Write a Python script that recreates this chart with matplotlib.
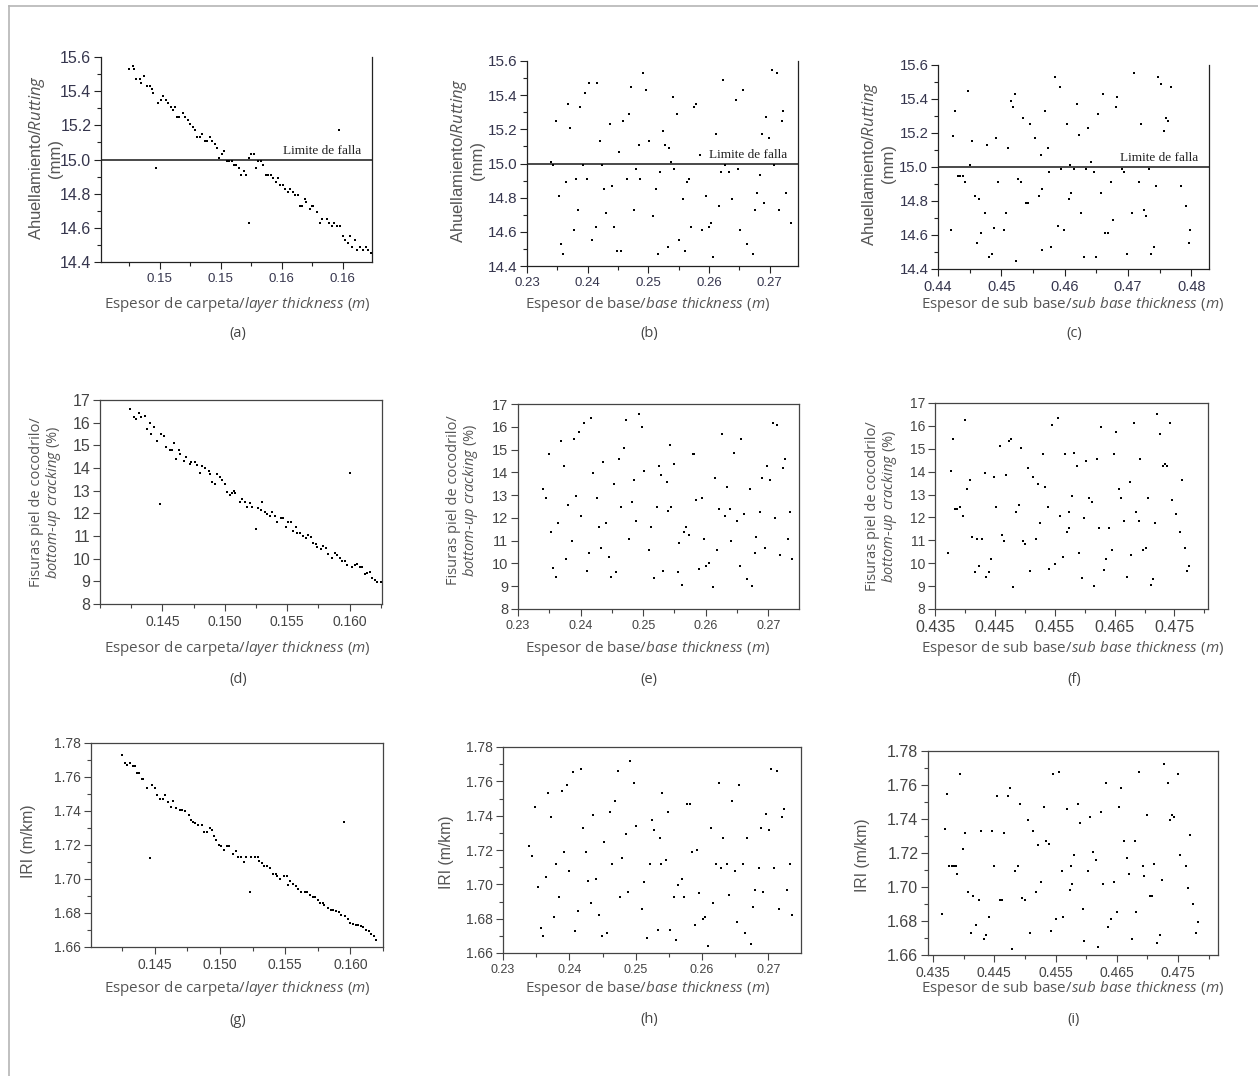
import matplotlib
matplotlib.use("Agg")
import matplotlib.pyplot as plt
from matplotlib.lines import Line2D
from matplotlib.ticker import AutoMinorLocator, NullLocator

plt.rcParams["mathtext.fontset"] = "custom"
plt.rcParams["mathtext.it"] = "Open Sans:italic"
plt.rcParams["mathtext.rm"] = "Open Sans"

# ---------------------------------------------------------------------------
# Data (x = thickness in m, y = response)
# ---------------------------------------------------------------------------

# (a) rutting vs layer thickness
a_x = [0.1425, 0.1428, 0.1429, 0.1431, 0.1434, 0.1435, 0.1437, 0.1440, 0.1442, 0.1444,
       0.1445, 0.1449, 0.1451, 0.1453, 0.1455, 0.1457, 0.1459, 0.1461, 0.1463, 0.1464,
       0.1466, 0.1469, 0.1471, 0.1473, 0.1475, 0.1477, 0.1479, 0.1481, 0.1483, 0.1485,
       0.1487, 0.1489, 0.1491, 0.1493, 0.1495, 0.1497, 0.1499, 0.1501, 0.1503, 0.1505,
       0.1507, 0.1509, 0.1511, 0.1513, 0.1515, 0.1517, 0.1519, 0.1521, 0.1523, 0.1525,
       0.1527, 0.1529, 0.1531, 0.1533, 0.1535, 0.1537, 0.1539, 0.1541, 0.1543, 0.1545,
       0.1547, 0.1549, 0.1551, 0.1553, 0.1555, 0.1557, 0.1559, 0.1561, 0.1563, 0.1565,
       0.1567, 0.1569, 0.1570, 0.1573, 0.1575, 0.1576, 0.1579, 0.1581, 0.1583, 0.1587,
       0.1589, 0.1591, 0.1593, 0.1595, 0.1598, 0.1600, 0.1602, 0.1604, 0.1606, 0.1608,
       0.1610, 0.1612, 0.1614, 0.1617, 0.1619, 0.1621, 0.1623, 0.1447, 0.1523, 0.1597]
a_y = [15.53, 15.55, 15.53, 15.47, 15.47, 15.45, 15.49, 15.43, 15.43, 15.41,
       15.39, 15.33, 15.35, 15.37, 15.35, 15.33, 15.31, 15.29, 15.31, 15.25,
       15.25, 15.27, 15.25, 15.23, 15.21, 15.19, 15.17, 15.13, 15.13, 15.15,
       15.11, 15.11, 15.13, 15.11, 15.09, 15.07, 15.01, 15.03, 15.05, 14.99,
       14.99, 14.99, 14.97, 14.97, 14.95, 14.91, 14.93, 14.91, 15.01, 15.03,
       15.03, 14.95, 14.99, 14.99, 14.97, 14.91, 14.91, 14.91, 14.89, 14.87,
       14.89, 14.85, 14.85, 14.83, 14.81, 14.83, 14.81, 14.79, 14.79, 14.73,
       14.73, 14.77, 14.75, 14.71, 14.73, 14.73, 14.69, 14.63, 14.65, 14.65,
       14.63, 14.61, 14.63, 14.61, 14.61, 14.55, 14.53, 14.51, 14.55, 14.49,
       14.53, 14.47, 14.49, 14.47, 14.49, 14.47, 14.45, 14.95, 14.63, 15.17]

# (b) rutting vs base thickness
b_x = [0.2339, 0.2343, 0.2348, 0.2353, 0.2356, 0.2360, 0.2364, 0.2368, 0.2371, 0.2377,
       0.2380, 0.2384, 0.2388, 0.2392, 0.2396, 0.2399, 0.2403, 0.2408, 0.2413, 0.2416,
       0.2420, 0.2424, 0.2427, 0.2431, 0.2437, 0.2440, 0.2444, 0.2448, 0.2452, 0.2455,
       0.2459, 0.2465, 0.2469, 0.2472, 0.2476, 0.2480, 0.2484, 0.2487, 0.2491, 0.2497,
       0.2501, 0.2508, 0.2512, 0.2516, 0.2519, 0.2524, 0.2528, 0.2532, 0.2535, 0.2537,
       0.2540, 0.2543, 0.2547, 0.2551, 0.2557, 0.2560, 0.2564, 0.2568, 0.2571, 0.2575,
       0.2579, 0.2585, 0.2588, 0.2595, 0.2600, 0.2604, 0.2607, 0.2611, 0.2616, 0.2620,
       0.2624, 0.2627, 0.2634, 0.2638, 0.2645, 0.2648, 0.2652, 0.2656, 0.2663, 0.2673,
       0.2676, 0.2680, 0.2684, 0.2687, 0.2691, 0.2695, 0.2699, 0.2704, 0.2708, 0.2712,
       0.2716, 0.2720, 0.2723, 0.2727, 0.2736]
b_y = [15.01, 14.99, 15.25, 14.81, 14.53, 14.47, 14.89, 15.35, 15.21, 14.61,
       14.91, 14.73, 15.33, 14.99, 15.41, 14.91, 15.47, 14.55, 14.63, 15.47,
       15.13, 14.99, 14.85, 14.71, 15.23, 14.87, 14.63, 14.49, 15.07, 14.49,
       15.25, 14.91, 15.29, 15.45, 14.73, 14.97, 15.11, 14.91, 15.53, 15.43,
       15.13, 14.69, 14.85, 14.47, 14.95, 15.19, 15.11, 14.51, 15.09, 15.01,
       15.39, 14.97, 15.29, 14.55, 14.79, 14.49, 14.89, 14.91, 14.63, 15.33,
       15.35, 15.05, 14.61, 14.81, 14.63, 14.65, 14.45, 15.17, 14.75, 14.95,
       15.49, 14.99, 14.95, 14.79, 15.37, 14.97, 14.61, 15.43, 14.53, 14.47,
       14.73, 14.83, 14.93, 15.17, 14.77, 15.27, 15.15, 15.55, 14.99, 15.53,
       14.73, 15.25, 15.31, 14.83, 14.65]

# (c) rutting vs sub base thickness
c_x = [0.4421, 0.4423, 0.4427, 0.4431, 0.4435, 0.4439, 0.4443, 0.4447, 0.4451, 0.4454,
       0.4458, 0.4461, 0.4465, 0.4468, 0.4474, 0.4477, 0.4481, 0.4485, 0.4488, 0.4492,
       0.4495, 0.4504, 0.4508, 0.4511, 0.4515, 0.4518, 0.4522, 0.4523, 0.4527, 0.4531,
       0.4534, 0.4539, 0.4542, 0.4546, 0.4553, 0.4559, 0.4562, 0.4564, 0.4565, 0.4569,
       0.4573, 0.4576, 0.4579, 0.4585, 0.4589, 0.4593, 0.4595, 0.4599, 0.4603, 0.4607,
       0.4608, 0.4610, 0.4615, 0.4619, 0.4623, 0.4626, 0.4630, 0.4634, 0.4637, 0.4642,
       0.4646, 0.4649, 0.4653, 0.4657, 0.4660, 0.4664, 0.4668, 0.4673, 0.4676, 0.4681,
       0.4683, 0.4691, 0.4694, 0.4699, 0.4707, 0.4710, 0.4717, 0.4721, 0.4726, 0.4729,
       0.4734, 0.4737, 0.4741, 0.4744, 0.4748, 0.4752, 0.4757, 0.4760, 0.4764, 0.4768,
       0.4784, 0.4792, 0.4796, 0.4798]
c_y = [14.63, 15.18, 15.33, 14.95, 14.95, 14.95, 14.91, 15.45, 15.01, 15.15,
       14.83, 14.55, 14.81, 14.61, 14.73, 15.13, 14.47, 14.49, 14.64, 15.17,
       14.91, 14.63, 14.73, 15.11, 15.39, 15.35, 15.43, 14.45, 14.93, 14.91,
       15.29, 14.79, 14.79, 15.25, 15.17, 14.83, 15.07, 14.51, 14.87, 15.33,
       15.11, 14.97, 14.53, 15.53, 14.65, 15.47, 14.99, 14.63, 15.25, 14.81,
       15.01, 14.85, 14.99, 15.37, 15.19, 14.73, 14.47, 14.99, 15.23, 15.03,
       14.97, 14.47, 15.31, 14.85, 15.43, 14.61, 14.61, 14.91, 14.69, 15.35,
       15.41, 14.99, 14.97, 14.49, 14.73, 15.55, 14.91, 15.25, 14.75, 14.71,
       14.99, 14.49, 14.53, 14.89, 15.53, 15.49, 15.21, 15.29, 15.27, 15.47,
       14.89, 14.77, 14.55, 14.63]

# (d) bottom-up cracking vs layer thickness
d_x = [0.1424, 0.1427, 0.1429, 0.1431, 0.1433, 0.1436, 0.1438, 0.1440, 0.1441, 0.1443,
       0.1446, 0.1448, 0.1449, 0.1451, 0.1453, 0.1456, 0.1458, 0.1459, 0.1461, 0.1463,
       0.1464, 0.1467, 0.1469, 0.1472, 0.1473, 0.1476, 0.1478, 0.1480, 0.1482, 0.1484,
       0.1487, 0.1488, 0.1490, 0.1492, 0.1494, 0.1496, 0.1498, 0.1500, 0.1502, 0.1504,
       0.1506, 0.1507, 0.1508, 0.1512, 0.1514, 0.1516, 0.1518, 0.1520, 0.1522, 0.1525,
       0.1527, 0.1529, 0.1530, 0.1532, 0.1534, 0.1536, 0.1538, 0.1540, 0.1542, 0.1545,
       0.1547, 0.1549, 0.1551, 0.1553, 0.1555, 0.1557, 0.1558, 0.1560, 0.1563, 0.1565,
       0.1567, 0.1569, 0.1571, 0.1573, 0.1574, 0.1577, 0.1579, 0.1581, 0.1583, 0.1586,
       0.1588, 0.1590, 0.1592, 0.1594, 0.1596, 0.1598, 0.1600, 0.1602, 0.1604, 0.1606,
       0.1608, 0.1610, 0.1612, 0.1614, 0.1616, 0.1618, 0.1620, 0.1622, 0.1625]
d_y = [16.60, 16.24, 16.15, 16.41, 16.24, 16.31, 15.71, 15.97, 15.49, 15.79,
       15.19, 12.40, 15.49, 15.41, 14.91, 14.79, 14.79, 15.09, 14.40, 14.79,
       14.62, 14.31, 14.50, 14.18, 14.28, 14.28, 14.13, 13.79, 14.09, 13.99,
       13.88, 13.72, 13.40, 13.29, 13.72, 13.62, 13.47, 13.28, 12.93, 12.81,
       12.88, 12.99, 12.88, 12.51, 12.62, 12.51, 12.29, 12.44, 12.29, 11.29,
       12.25, 12.15, 12.51, 12.04, 11.96, 11.88, 12.07, 11.88, 11.60, 11.78,
       11.78, 11.41, 11.60, 11.60, 11.22, 11.41, 11.12, 11.12, 11.01, 10.90,
       11.04, 10.97, 10.68, 10.63, 10.53, 10.41, 10.57, 10.46, 10.19, 10.01,
       10.26, 10.16, 10.01, 9.90, 9.90, 9.72, 13.76, 9.65, 9.72, 9.75,
       9.65, 9.65, 9.31, 9.38, 9.40, 9.13, 9.06, 8.99, 8.96]

# (e) bottom-up cracking vs base thickness
e_x = [0.2340, 0.2344, 0.2349, 0.2353, 0.2356, 0.2360, 0.2364, 0.2369, 0.2373, 0.2377,
       0.2380, 0.2386, 0.2389, 0.2393, 0.2397, 0.2401, 0.2405, 0.2410, 0.2413, 0.2416,
       0.2420, 0.2426, 0.2429, 0.2433, 0.2436, 0.2441, 0.2446, 0.2449, 0.2453, 0.2456,
       0.2462, 0.2465, 0.2469, 0.2472, 0.2477, 0.2482, 0.2486, 0.2489, 0.2493, 0.2498,
       0.2502, 0.2509, 0.2513, 0.2518, 0.2522, 0.2525, 0.2529, 0.2532, 0.2538, 0.2540,
       0.2543, 0.2545, 0.2549, 0.2555, 0.2557, 0.2562, 0.2565, 0.2569, 0.2574, 0.2579,
       0.2582, 0.2585, 0.2589, 0.2594, 0.2597, 0.2601, 0.2605, 0.2611, 0.2614, 0.2618,
       0.2621, 0.2626, 0.2630, 0.2634, 0.2638, 0.2641, 0.2645, 0.2650, 0.2654, 0.2657,
       0.2661, 0.2666, 0.2671, 0.2674, 0.2678, 0.2681, 0.2686, 0.2690, 0.2695, 0.2698,
       0.2702, 0.2707, 0.2711, 0.2714, 0.2718, 0.2724, 0.2727, 0.2731, 0.2735, 0.2738]
e_y = [13.27, 12.87, 14.80, 11.36, 9.78, 9.42, 11.79, 15.38, 14.28, 10.19,
       12.58, 10.98, 15.47, 12.98, 15.78, 12.08, 16.18, 9.69, 10.48, 16.37,
       13.98, 12.87, 11.58, 10.69, 14.47, 11.79, 10.29, 9.42, 13.48, 9.63,
       14.58, 12.48, 15.08, 16.28, 11.08, 12.68, 13.68, 11.88, 16.57, 15.97,
       14.08, 10.58, 11.58, 9.38, 12.48, 14.28, 13.89, 9.69, 13.58, 12.29,
       15.19, 12.48, 14.37, 9.63, 10.88, 9.07, 11.36, 11.58, 11.27, 14.80,
       14.80, 12.79, 9.75, 12.87, 11.08, 9.88, 10.00, 8.98, 13.77, 10.58,
       12.37, 15.68, 12.08, 13.37, 12.37, 10.98, 14.87, 11.88, 9.88, 15.47,
       12.18, 9.32, 13.27, 9.03, 10.48, 11.17, 12.27, 13.77, 10.69, 14.28,
       13.68, 16.18, 11.98, 16.07, 10.38, 14.18, 14.58, 11.08, 12.27, 10.18]

# (f) bottom-up cracking vs sub base thickness
f_x = [0.4372, 0.4376, 0.4380, 0.4383, 0.4387, 0.4391, 0.4396, 0.4400, 0.4404, 0.4408,
       0.4412, 0.4416, 0.4420, 0.4424, 0.4429, 0.4433, 0.4436, 0.4440, 0.4444, 0.4448,
       0.4452, 0.4458, 0.4462, 0.4465, 0.4469, 0.4473, 0.4477, 0.4481, 0.4486, 0.4490,
       0.4493, 0.4497, 0.4501, 0.4506, 0.4509, 0.4513, 0.4518, 0.4522, 0.4526, 0.4530,
       0.4534, 0.4538, 0.4541, 0.4546, 0.4550, 0.4555, 0.4559, 0.4563, 0.4567, 0.4570,
       0.4573, 0.4574, 0.4579, 0.4583, 0.4587, 0.4591, 0.4595, 0.4599, 0.4603, 0.4608,
       0.4612, 0.4616, 0.4620, 0.4624, 0.4628, 0.4632, 0.4635, 0.4641, 0.4645, 0.4649,
       0.4653, 0.4657, 0.4661, 0.4665, 0.4670, 0.4675, 0.4678, 0.4682, 0.4685, 0.4690,
       0.4693, 0.4698, 0.4702, 0.4706, 0.4710, 0.4714, 0.4718, 0.4721, 0.4725, 0.4731,
       0.4734, 0.4738, 0.4742, 0.4746, 0.4753, 0.4759, 0.4763, 0.4767, 0.4771, 0.4775]
f_y = [10.46, 14.05, 15.44, 12.35, 12.35, 12.45, 12.06, 16.25, 13.24, 13.65,
       11.15, 9.62, 11.05, 9.87, 11.05, 13.94, 9.41, 9.62, 10.17, 13.75,
       12.45, 15.14, 11.25, 10.96, 13.86, 15.35, 15.44, 8.97, 12.25, 12.56,
       15.04, 10.96, 10.86, 14.15, 9.66, 13.75, 11.05, 13.45, 11.75, 14.75,
       13.35, 12.45, 9.76, 16.04, 9.98, 16.34, 12.06, 10.26, 14.75, 11.36,
       12.25, 11.56, 12.95, 14.83, 14.25, 10.46, 9.37, 11.96, 14.45, 12.85,
       12.66, 9.02, 14.54, 11.56, 15.93, 9.72, 10.17, 11.56, 10.57, 14.75,
       15.74, 13.24, 12.85, 11.85, 9.41, 13.55, 10.36, 16.14, 12.25, 11.85,
       14.54, 10.57, 10.67, 12.85, 9.06, 9.31, 11.75, 16.53, 15.64, 14.25,
       14.35, 14.25, 16.14, 12.75, 12.16, 11.36, 13.65, 10.67, 9.66, 9.87]

# (g) IRI vs layer thickness
g_x = [0.1425, 0.1427, 0.1429, 0.1431, 0.1433, 0.1435, 0.1436, 0.1438, 0.1440, 0.1441,
       0.1444, 0.1446, 0.1448, 0.1450, 0.1452, 0.1454, 0.1456, 0.1458, 0.1460, 0.1462,
       0.1464, 0.1466, 0.1469, 0.1471, 0.1473, 0.1476, 0.1478, 0.1479, 0.1481, 0.1483,
       0.1486, 0.1488, 0.1490, 0.1492, 0.1494, 0.1495, 0.1497, 0.1499, 0.1501, 0.1503,
       0.1505, 0.1507, 0.1510, 0.1512, 0.1514, 0.1516, 0.1518, 0.1520, 0.1523, 0.1524,
       0.1527, 0.1529, 0.1530, 0.1532, 0.1534, 0.1536, 0.1538, 0.1541, 0.1543, 0.1544,
       0.1546, 0.1549, 0.1551, 0.1552, 0.1554, 0.1556, 0.1558, 0.1560, 0.1562, 0.1565,
       0.1567, 0.1569, 0.1571, 0.1573, 0.1575, 0.1577, 0.1579, 0.1580, 0.1583, 0.1585,
       0.1587, 0.1589, 0.1591, 0.1593, 0.1595, 0.1596, 0.1598, 0.1600, 0.1602, 0.1604,
       0.1606, 0.1608, 0.1610, 0.1612, 0.1614, 0.1616, 0.1618, 0.1620]
g_y = [1.7727, 1.7682, 1.7669, 1.7682, 1.7663, 1.7663, 1.7622, 1.7622, 1.7588, 1.7588,
       1.7537, 1.7122, 1.7551, 1.7537, 1.7496, 1.7471, 1.7471, 1.7496, 1.7451, 1.7422,
       1.7461, 1.7418, 1.7408, 1.7408, 1.7398, 1.7378, 1.7345, 1.7335, 1.7329, 1.7318,
       1.7318, 1.7275, 1.7275, 1.7300, 1.7290, 1.7255, 1.7231, 1.7202, 1.7192, 1.7173,
       1.7192, 1.7192, 1.7147, 1.7163, 1.7129, 1.7129, 1.7100, 1.7129, 1.6924, 1.7129,
       1.7129, 1.7129, 1.7104, 1.7094, 1.7078, 1.7075, 1.7065, 1.7031, 1.7031, 1.7016,
       1.7000, 1.7016, 1.7020, 1.6967, 1.6986, 1.6973, 1.6957, 1.6941, 1.6922, 1.6922,
       1.6922, 1.6908, 1.6892, 1.6892, 1.6878, 1.6859, 1.6859, 1.6845, 1.6829, 1.6820,
       1.6820, 1.6810, 1.6804, 1.6790, 1.7333, 1.6780, 1.6767, 1.6741, 1.6737, 1.6731,
       1.6731, 1.6722, 1.6718, 1.6702, 1.6696, 1.6678, 1.6663, 1.6639]

# (h) IRI vs base thickness
h_x = [0.2339, 0.2344, 0.2348, 0.2352, 0.2357, 0.2360, 0.2365, 0.2368, 0.2372, 0.2377,
       0.2380, 0.2384, 0.2389, 0.2392, 0.2396, 0.2400, 0.2405, 0.2408, 0.2413, 0.2417,
       0.2420, 0.2425, 0.2428, 0.2432, 0.2436, 0.2440, 0.2444, 0.2449, 0.2452, 0.2456,
       0.2461, 0.2464, 0.2468, 0.2473, 0.2477, 0.2480, 0.2485, 0.2488, 0.2492, 0.2497,
       0.2501, 0.2509, 0.2513, 0.2517, 0.2522, 0.2525, 0.2528, 0.2533, 0.2536, 0.2538,
       0.2540, 0.2546, 0.2549, 0.2552, 0.2558, 0.2561, 0.2564, 0.2569, 0.2573, 0.2577,
       0.2582, 0.2585, 0.2589, 0.2593, 0.2596, 0.2601, 0.2605, 0.2609, 0.2613, 0.2617,
       0.2621, 0.2625, 0.2629, 0.2632, 0.2637, 0.2641, 0.2645, 0.2650, 0.2653, 0.2656,
       0.2661, 0.2665, 0.2668, 0.2673, 0.2677, 0.2680, 0.2686, 0.2689, 0.2692, 0.2697,
       0.2701, 0.2704, 0.2709, 0.2713, 0.2716, 0.2721, 0.2724, 0.2728, 0.2733, 0.2736]
h_y = [1.7221, 1.7167, 1.7450, 1.6983, 1.6744, 1.6697, 1.7043, 1.7532, 1.7392, 1.6808,
       1.7120, 1.6924, 1.7544, 1.7188, 1.7579, 1.7076, 1.7656, 1.6730, 1.6843, 1.7672,
       1.7326, 1.7188, 1.7017, 1.6891, 1.7406, 1.7029, 1.6823, 1.6697, 1.7247, 1.6717,
       1.7421, 1.7120, 1.7487, 1.7658, 1.6924, 1.7155, 1.7293, 1.6953, 1.7718, 1.7590,
       1.7340, 1.6856, 1.7014, 1.6685, 1.7120, 1.7373, 1.7314, 1.6732, 1.7268, 1.7120,
       1.7532, 1.7144, 1.7421, 1.6732, 1.6924, 1.6674, 1.6998, 1.7031, 1.6924, 1.7466,
       1.7466, 1.7188, 1.6765, 1.7202, 1.6950, 1.6798, 1.6808, 1.6639, 1.7328, 1.6891,
       1.7120, 1.7590, 1.7095, 1.7268, 1.7120, 1.6938, 1.7485, 1.7076, 1.6779, 1.7581,
       1.7120, 1.6718, 1.7268, 1.6652, 1.6870, 1.6969, 1.7097, 1.7328, 1.6955, 1.7408,
       1.7314, 1.7672, 1.7097, 1.7658, 1.6856, 1.7392, 1.7441, 1.6969, 1.7120, 1.6823]

# (i) IRI vs sub base thickness
i_x = [0.4365, 0.4369, 0.4373, 0.4376, 0.4381, 0.4385, 0.4387, 0.4390, 0.4395, 0.4399,
       0.4403, 0.4407, 0.4412, 0.4416, 0.4420, 0.4425, 0.4429, 0.4433, 0.4437, 0.4442,
       0.4446, 0.4450, 0.4455, 0.4459, 0.4462, 0.4466, 0.4472, 0.4475, 0.4479, 0.4484,
       0.4488, 0.4492, 0.4496, 0.4501, 0.4505, 0.4509, 0.4514, 0.4518, 0.4522, 0.4526,
       0.4531, 0.4535, 0.4539, 0.4543, 0.4546, 0.4551, 0.4556, 0.4560, 0.4563, 0.4568,
       0.4573, 0.4575, 0.4577, 0.4580, 0.4586, 0.4590, 0.4594, 0.4597, 0.4603, 0.4607,
       0.4611, 0.4616, 0.4620, 0.4624, 0.4627, 0.4633, 0.4636, 0.4640, 0.4646, 0.4650,
       0.4653, 0.4657, 0.4662, 0.4666, 0.4670, 0.4675, 0.4679, 0.4682, 0.4686, 0.4692,
       0.4695, 0.4699, 0.4704, 0.4708, 0.4711, 0.4715, 0.4720, 0.4723, 0.4727, 0.4733,
       0.4736, 0.4740, 0.4744, 0.4749, 0.4753, 0.4762, 0.4766, 0.4770, 0.4774, 0.4779,
       0.4783]
i_y = [1.6843, 1.7344, 1.7550, 1.7123, 1.7123, 1.7123, 1.7123, 1.7076, 1.7663, 1.7223,
       1.7315, 1.6968, 1.6728, 1.6949, 1.6777, 1.6921, 1.7330, 1.6696, 1.6716, 1.6822,
       1.7330, 1.7123, 1.7536, 1.6921, 1.6921, 1.7317, 1.7536, 1.7583, 1.6636, 1.7096,
       1.7123, 1.7491, 1.6935, 1.6921, 1.7395, 1.6728, 1.7330, 1.6968, 1.7250, 1.7027,
       1.7469, 1.7270, 1.7252, 1.6741, 1.7663, 1.6810, 1.7677, 1.7096, 1.6822, 1.7456,
       1.6982, 1.7123, 1.7015, 1.7188, 1.7491, 1.7375, 1.6869, 1.6683, 1.7096, 1.7409,
       1.7203, 1.7156, 1.6649, 1.7442, 1.7017, 1.7614, 1.6763, 1.6810, 1.7027, 1.6855,
       1.7469, 1.7583, 1.7270, 1.7170, 1.7076, 1.6696, 1.7270, 1.6855, 1.7677, 1.7123,
       1.7062, 1.7422, 1.6945, 1.6945, 1.7135, 1.6669, 1.6716, 1.7041, 1.7724, 1.7614,
       1.7395, 1.7422, 1.7409, 1.7663, 1.7188, 1.7123, 1.6996, 1.7305, 1.6902, 1.6728,
       1.6794]

# axis ticks
carpeta_ticks = [0.145, 0.150, 0.155, 0.160]
carpeta_labels_a = ["0.15", "0.15", "0.16", "0.16"]
carpeta_labels = ["0.145", "0.150", "0.155", "0.160"]
base_ticks = [0.23, 0.24, 0.25, 0.26, 0.27]
base_labels = ["0.23", "0.24", "0.25", "0.26", "0.27"]
sub_ticks_c = [0.44, 0.45, 0.46, 0.47, 0.48]
sub_labels_c = ["0.44", "0.45", "0.46", "0.47", "0.48"]
sub_ticks = [0.435, 0.445, 0.455, 0.465, 0.475]
sub_labels = ["0.435", "0.445", "0.455", "0.465", "0.475"]
rut_ticks = [14.4, 14.6, 14.8, 15.0, 15.2, 15.4, 15.6]
rut_labels = ["14.4", "14.6", "14.8", "15.0", "15.2", "15.4", "15.6"]
crack_ticks = [8, 9, 10, 11, 12, 13, 14, 15, 16, 17]
crack_labels = ["8", "9", "10", "11", "12", "13", "14", "15", "16", "17"]
iri_ticks = [1.66, 1.68, 1.70, 1.72, 1.74, 1.76, 1.78]
iri_labels = ["1.66", "1.68", "1.70", "1.72", "1.74", "1.76", "1.78"]
FAILURE_LIMIT = 15.0

# ---------------------------------------------------------------------------
# Figure
# ---------------------------------------------------------------------------

W, H = 1258, 1076
fig = plt.figure(figsize=(W / 100, H / 100), dpi=100)

SANS = "Liberation Sans"
LABEL = "Open Sans"
GREY = "#555555"


def panel(box, xs, ys, xlim, ylim, xt, xtl, yt, ytl, xfs, yfs,
          top=True, yminor=True, tickcol="#333333", spinecol="#333333"):
    left, top_px, right, bottom = box
    ax = fig.add_axes([left / W, 1 - bottom / H, (right - left) / W, (bottom - top_px) / H])
    ax.scatter(xs, ys, marker="s", s=4, c="black", linewidths=0, zorder=3)
    ax.set_xlim(*xlim)
    ax.set_ylim(*ylim)
    ax.set_xticks(xt, xtl)
    ax.set_yticks(yt, ytl)
    ax.xaxis.set_minor_locator(AutoMinorLocator(2))
    ax.yaxis.set_minor_locator(AutoMinorLocator(2) if yminor else NullLocator())
    ax.tick_params(which="major", direction="out", length=5, width=0.8, color=spinecol)
    ax.tick_params(which="minor", direction="out", length=3, width=0.8, color=spinecol)
    ax.tick_params(axis="x", labelsize=xfs, labelcolor=tickcol, pad=3)
    ax.tick_params(axis="y", labelsize=yfs, labelcolor=tickcol, pad=2)
    for lab in ax.get_xticklabels() + ax.get_yticklabels():
        lab.set_family(SANS)
    for s in ax.spines.values():
        s.set_color(spinecol)
        s.set_linewidth(0.9)
    ax.spines["top"].set_visible(top)
    return ax


def failure_line(ax, x_text):
    ax.axhline(FAILURE_LIMIT, color="#2a2a2a", lw=1.2, zorder=2)
    ax.text(x_text, FAILURE_LIMIT + 0.015, "Limite de falla", family="Liberation Serif",
            fontsize=9.5, color="#222222", va="bottom", ha="left")


def ftext(x, y, s, **kw):
    fig.text(x / W, 1 - y / H, s, **kw)


# row 1 -------------------------------------------------------------------
ax = panel((101, 57, 372, 262), a_x, a_y, (0.1402, 0.1624), (14.4, 15.6),
           carpeta_ticks, carpeta_labels_a, rut_ticks, rut_labels, 9.5, 11.5,
           top=False, tickcol="#35354d", spinecol="#222222")
failure_line(ax, 0.1551)
ax = panel((527, 61, 798, 266), b_x, b_y, (0.23, 0.2747), (14.4, 15.6),
           base_ticks, base_labels, rut_ticks, rut_labels, 9.5, 11,
           top=False, tickcol="#35354d", spinecol="#222222")
failure_line(ax, 0.2600)
ax = panel((938, 65, 1209, 269), c_x, c_y, (0.44, 0.4828), (14.4, 15.6),
           sub_ticks_c, sub_labels_c, rut_ticks, rut_labels, 10.5, 10.7,
           top=False, tickcol="#35354d", spinecol="#222222")
failure_line(ax, 0.4687)

# row 2 -------------------------------------------------------------------
panel((100, 400, 382, 604), d_x, d_y, (0.1400, 0.1626), (8, 17),
      carpeta_ticks, carpeta_labels, crack_ticks, crack_labels, 10, 11.5,
      yminor=False, tickcol="#444444", spinecol="#444444")
panel((518, 404, 799, 609), e_x, e_y, (0.23, 0.2749), (8, 17),
      base_ticks, base_labels, crack_ticks, crack_labels, 9, 10.5,
      yminor=False, tickcol="#444444", spinecol="#444444")
panel((935, 403, 1208, 609), f_x, f_y, (0.435, 0.4806), (8, 17),
      sub_ticks, sub_labels, crack_ticks, crack_labels, 11.5, 10,
      yminor=False, tickcol="#444444", spinecol="#444444")

# row 3 -------------------------------------------------------------------
panel((91, 743, 383, 947), g_x, g_y, (0.1401, 0.1625), (1.66, 1.78),
      carpeta_ticks, carpeta_labels, iri_ticks, iri_labels, 10, 10,
      tickcol="#444444", spinecol="#444444")
panel((503, 747, 801, 953), h_x, h_y, (0.23, 0.2749), (1.66, 1.78),
      base_ticks, base_labels, iri_ticks, iri_labels, 9, 10,
      tickcol="#444444", spinecol="#444444")
panel((928, 751, 1218, 955), i_x, i_y, (0.4342, 0.4815), (1.66, 1.78),
      sub_ticks, sub_labels, iri_ticks, iri_labels, 10, 11.5,
      tickcol="#444444", spinecol="#444444")

# axis titles ---------------------------------------------------------------
rut_label = "Ahuellamiento/$\\mathit{Rutting}$\n(mm)"
crack_label = "Fisuras piel de cocodrilo/\n$\\mathit{bottom}$-$\\mathit{up\\ cracking\\ (\\%)}$"
iri_label = "IRI (m/km)"
for (x, y) in [(45, 158), (467, 161), (878, 164)]:
    ftext(x, y, rut_label, rotation=90, ha="center", va="center", multialignment="center",
          family=SANS, fontsize=12, color=GREY, linespacing=1.05)
for (x, y) in [(46, 502), (463, 500), (882, 506)]:
    ftext(x, y, crack_label, rotation=90, ha="center", va="center", multialignment="center",
          family=LABEL, fontsize=10.5, color=GREY, linespacing=1.0)
for (x, y) in [(29, 841), (446, 852), (862, 855)]:
    ftext(x, y, iri_label, rotation=90, ha="center", va="center",
          family=SANS, fontsize=11.3, color=GREY)

carpeta_title = "Espesor de carpeta/$\\mathit{layer\\ thickness\\ (m)}$"
base_title = "Espesor de base/$\\mathit{base\\ thickness\\ (m)}$"
sub_title = "Espesor de sub base/$\\mathit{sub\\ base\\ thickness\\ (m)}$"
for row_y, cap_y, caps in [(304, 334, "abc"), (648, 679, "def"), (989, 1020, "ghi")]:
    for (cx, title, cap) in zip([237, 648, 1073], [carpeta_title, base_title, sub_title], caps):
        ftext(cx, row_y, title, ha="center", va="center", family=LABEL,
              fontsize=10.9, color=GREY)
        ftext(cx + 1, cap_y, f"({cap})", ha="center", va="center", family=LABEL,
              fontsize=10.5, color="#444444")

# page frame
fig.add_artist(Line2D([9 / W, 1], [1 - 6 / H, 1 - 6 / H], transform=fig.transFigure,
                      color="#b5b5b5", lw=1.2))
fig.add_artist(Line2D([9 / W, 9 / W], [0, 1 - 6 / H], transform=fig.transFigure,
                      color="#b5b5b5", lw=1.2))

fig.savefig("out.png", dpi=100, facecolor="white")
